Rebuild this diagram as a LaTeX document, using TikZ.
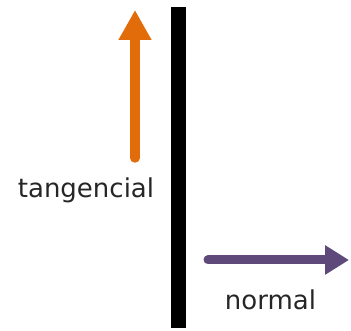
\documentclass[tikz,border=0pt]{standalone}
\usepackage{fontspec}
\setmainfont{DejaVu Sans}
\usepackage{xcolor}
\definecolor{TangOrange}{HTML}{E36C0A}
\definecolor{NormPurple}{HTML}{5F497A}
\usetikzlibrary{arrows.meta,positioning}

\begin{document}
\begin{tikzpicture}[x=1pt,y=1pt,
  wall/.style={line width=15pt,black},
  vec/.style={-{Triangle[length=30pt,width=31pt]},line width=9.5pt,line cap=round},
  lbl/.style={font=\fontsize{26}{30}\selectfont,text=black!85,inner sep=0pt}
]
  \useasboundingbox (0,0) rectangle (351,331);
  % wall
  \coordinate (wtop) at (178.5,324);
  \coordinate (wbot) at (178.5,3);
  \draw[wall] (wtop)--(wbot);

  % tangential component
  \coordinate (ttail) at (135,173);
  \coordinate (thead) at (135,321);
  \draw[vec,TangOrange] (ttail)--(thead);
  \node[lbl,anchor=base] (tlab) at (86,133) {tangencial};

  % normal component
  \coordinate (ntail) at (208,71);
  \coordinate (nhead) at (349,71);
  \draw[vec,NormPurple,-{Triangle[length=24pt,width=28pt]},line width=9pt] (ntail)--(nhead);
  \node[lbl,anchor=base] (nlab) at (270.5,21) {normal};
\end{tikzpicture}
\end{document}
